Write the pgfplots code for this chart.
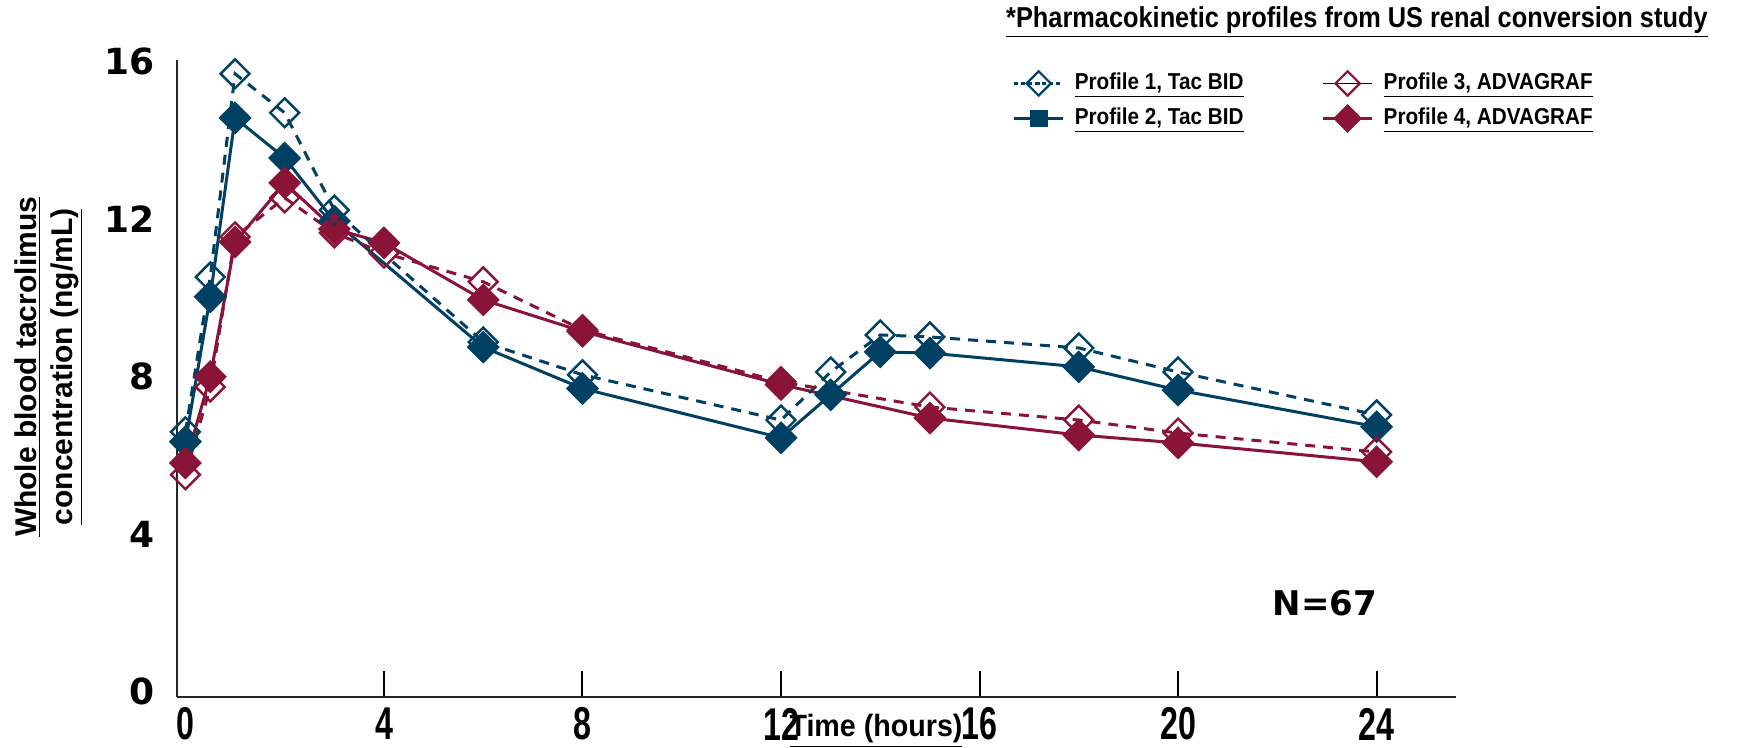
\documentclass[border=0pt]{standalone}
\usepackage{fontspec}
\setmainfont{Liberation Sans}
\newfontfamily\dejavu{DejaVu Sans}
\usepackage{graphicx}
\usepackage{pgfplots}
\pgfplotsset{compat=1.18}
\definecolor{tacblue}{RGB}{0,64,98}
\definecolor{advred}{RGB}{138,20,56}
\newcommand{\cx}[1]{\scalebox{0.7}[1]{#1}}
\newcommand{\legtext}[1]{\scalebox{0.9}[1]{\underline{#1}}}
\begin{document}
\begin{tikzpicture}
\path[use as bounding box] (0,0) rectangle (869.5pt,374pt);
\begin{axis}[
  at={(88.5pt,25.5pt)}, anchor=south west,
  scale only axis, width=639.5pt, height=318.5pt,
  xmin=-0.17, xmax=25.6, ymin=-0.13, ymax=16.04,
  axis x line*=bottom, axis y line*=left,
  axis line style={-, line width=1.4pt, black!85},
  clip=false,
  xtick={4,8,12,16,20,24},
  xticklabels={\cx{4},\cx{8},\cx{12},\cx{16},\cx{20},\cx{24}},
  extra x ticks={0}, extra x tick labels={\cx{0}},
  extra x tick style={major tick length=0pt},
  xtick pos=bottom, ytick pos=left,
  tick align=inside,
  major tick length=13pt,
  x tick style={line width=1pt, black},
  ytick={0,4,8,12,16}, yticklabels={0,4,8,12,16},
  y tick style={draw=none},
  xticklabel style={font=\bfseries\fontsize{23}{23}\selectfont, anchor=center, yshift=-13.5pt, inner sep=0pt},
  yticklabel style={font=\dejavu\bfseries\fontsize{18}{18}\selectfont, anchor=east, xshift=-11pt, inner sep=0pt},
  legend columns=2,
  legend cell align=left,
  legend style={at={(0.653,0.985)}, anchor=north west, draw=none, fill=none, inner sep=0pt,
    row sep=4pt, font=\bfseries\fontsize{11.5}{13}\selectfont,
    nodes={inner sep=0pt, text height=10pt, text depth=3.5pt},
    /tikz/every odd column/.append style={column sep=5pt},
    /tikz/every even column/.append style={column sep=39pt}},
  legend image code/.code={\draw[mark repeat=2,mark phase=2,#1] plot coordinates {(0pt,0pt) (12.25pt,0pt) (24.5pt,0pt)};},
]
\addlegendimage{tacblue, line width=1.3pt, dash pattern=on 2pt off 1.5pt, mark=square, mark size=4.3pt, mark options={solid, rotate=45, fill=white, line width=1.1pt}}
\addlegendentry{\legtext{Profile 1, Tac BID}}
\addlegendimage{draw=none, mark=square, mark size=4.3pt, mark options={solid, rotate=45, draw=advred, fill=white, line width=1.1pt}}
\addlegendentry{\legtext{Profile 3, ADVAGRAF}}
\addlegendimage{tacblue, line width=1.6pt, mark=square*, mark size=3.6pt, mark options={solid, fill=tacblue}}
\addlegendentry{\legtext{Profile 2, Tac BID}}
\addlegendimage{advred, line width=1.6pt, mark=square*, mark size=4.3pt, mark options={solid, rotate=45, fill=advred}}
\addlegendentry{\legtext{Profile 4, ADVAGRAF}}

% Profile 2, Tac BID (filled, solid)
\addplot[forget plot, tacblue, line width=1.5pt, mark=square*, mark size=5.1pt, mark options={solid, rotate=45, fill=tacblue}]
coordinates {(0,6.35) (0.5,10.03) (1,14.57) (2,13.55) (3,11.95) (6,8.75) (8,7.70) (12,6.45) (13,7.54) (14,8.63) (15,8.60) (18,8.25) (20,7.66) (24,6.73)};
% Profile 4, ADVAGRAF (filled, solid)
\addplot[forget plot, advred, line width=1.5pt, mark=square*, mark size=5.1pt, mark options={solid, rotate=45, fill=advred}]
coordinates {(0,5.81) (0.5,8.00) (1,11.42) (2,12.92) (3,11.75) (4,11.40) (6,9.95) (8,9.15) (12,7.80) (15,6.95) (18,6.52) (20,6.32) (24,5.84)};
% Profile 1, Tac BID (open, dashed)
\addplot[forget plot, tacblue, line width=1.5pt, dash pattern=on 5pt off 4pt, mark=square, mark size=5.1pt, mark options={solid, rotate=45, fill=white, line width=1.2pt}]
coordinates {(0,6.60) (0.5,10.53) (1,15.69) (2,14.70) (3,12.23) (6,8.88) (8,8.05) (12,6.90) (13,8.12) (14,9.06) (15,9.01) (18,8.73) (20,8.12) (24,7.03)};
% Profile 3, ADVAGRAF (open, dashed)
\addplot[forget plot, advred, line width=1.5pt, dash pattern=on 5pt off 4pt, mark=square, mark size=5.1pt, mark options={solid, rotate=45, fill=white, line width=1.2pt}]
coordinates {(0,5.51) (0.5,7.74) (1,11.55) (2,12.54) (3,11.65) (4,11.14) (6,10.41) (8,9.19) (12,7.87) (15,7.23) (18,6.90) (20,6.57) (24,6.09)};

\node[font=\dejavu\bfseries\fontsize{17}{17}\selectfont] at (axis cs:22.96,2.26) {N=67};
\end{axis}
\node[anchor=base east, inner sep=0pt, font=\bfseries\fontsize{14.4}{16}\selectfont] at (854pt,360pt) {\scalebox{0.88}[1]{\underline{*Pharmacokinetic profiles from US renal conversion study}}};
\node[rotate=90, align=center, inner sep=0pt, font=\bfseries\fontsize{15}{18}\selectfont] at (24.5pt,190.5pt) {\underline{Whole blood tacrolimus}\\\underline{concentration (ng/mL)}};
\node[anchor=base, inner sep=0pt, font=\bfseries\fontsize{15.4}{16}\selectfont] at (438pt,5.5pt) {\scalebox{0.93}[1]{\underline{Time (hours)}}};
\end{tikzpicture}
\end{document}
